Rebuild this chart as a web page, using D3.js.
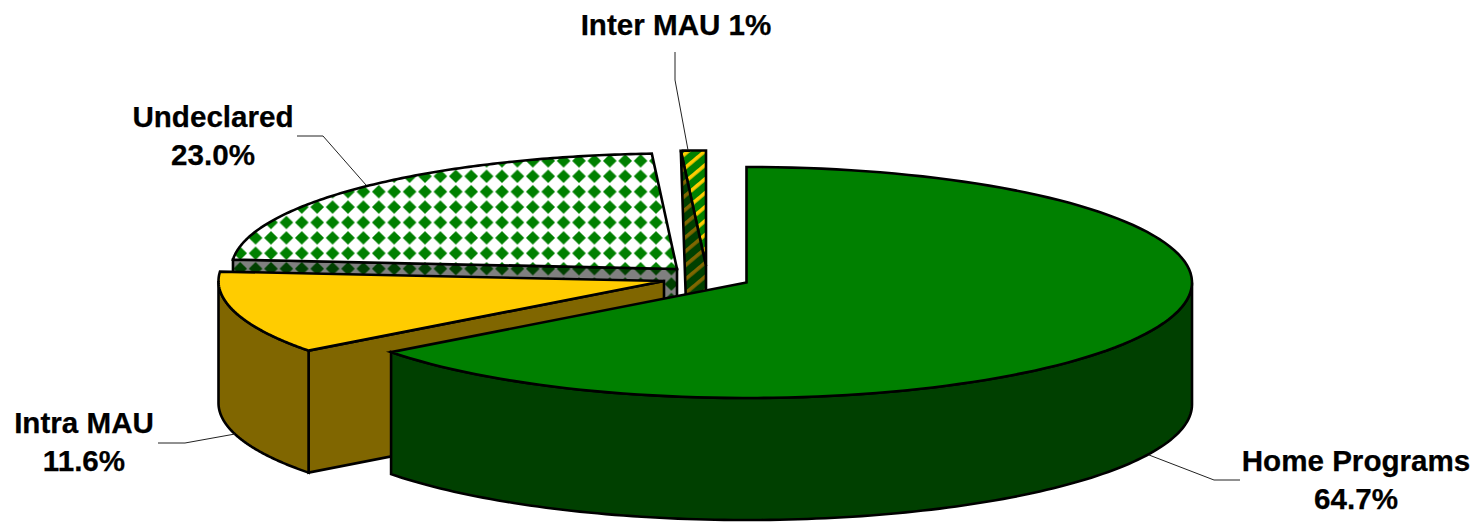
<!DOCTYPE html>
<html><head><meta charset="utf-8">
<script src="https://cdn.jsdelivr.net/npm/d3@7"></script>
<style>html,body{margin:0;padding:0;background:#fff}svg{display:block}text{font-family:"Liberation Sans",Arial,sans-serif;font-weight:700;font-size:29.6px;fill:#000;stroke:#000;stroke-width:0.25px;text-anchor:middle}</style>
</head><body><div id="c"></div>
<script>
const categories=["Home Programs","Intra MAU","Undeclared","Inter MAU"];
const shares=[64.7,11.6,22.8,0.9];
const labelLines=[["Home Programs","64.7%"],["Intra MAU","11.6%"],["Undeclared","23.0%"],["Inter MAU 1%"]];

const W=1480,H=523,rx=445.5,ry=115.5,depth=122;
const centres=[[746.5,282.5],[664,281],[677,269],[706,266]];
const topFill=["#008000","#FFCC00","url(#topDiamond)","url(#topStripe)"];
const wallFill=["#004000","#806600","url(#wallDiamond)","url(#wallStripe)"];
const labelPos=[[1356,471],[84,433],[213,127],[676,35]];
const leaders=[[[1149,455],[1214,480],[1240,480]],[[158,443],[185,443],[235,434]],[[297,136],[323,136],[366,185]],[[675,52],[675,80],[688,150]]];

const svg=d3.select("#c").append("svg").attr("width",W).attr("height",H);
const defs=svg.append("defs");
function diamond(id,bg,fg){
  const s=15.4,p=defs.append("pattern").attr("id",id).attr("patternUnits","userSpaceOnUse")
    .attr("width",s).attr("height",s).attr("x",1.5).attr("y",-0.8);
  p.append("rect").attr("width",s).attr("height",s).attr("fill",bg);
  p.append("path").attr("d",`M${s/2} 0.9L${s-0.9} ${s/2}L${s/2} ${s-0.9}L0.9 ${s/2}Z`).attr("fill",fg);
}
diamond("topDiamond","#fff","#008000");
diamond("wallDiamond","#808080","#004000");
function stripe(id,bg,fg){
  const s=10.7,p=defs.append("pattern").attr("id",id).attr("patternUnits","userSpaceOnUse")
    .attr("width",s).attr("height",s).attr("patternTransform","rotate(-40)");
  p.append("rect").attr("width",s).attr("height",s).attr("fill",bg);
  p.append("rect").attr("width",s).attr("height",3.6).attr("fill",fg);
}
stripe("topStripe","#008000","#FFCC00");
stripe("wallStripe","#004000","#806600");

const arcs=d3.pie().sort(null).value(d=>d).startAngle(0).endAngle(2*Math.PI)(shares);
const pt=(i,a,dz=0)=>[centres[i][0]+rx*Math.sin(a),centres[i][1]-ry*Math.cos(a)+dz];
const line=d3.line();
const sample=(i,a0,a1,dz=0)=>d3.range(0,121).map(k=>pt(i,a0+(a1-a0)*k/120,dz));
const stroke=(sel)=>sel.attr("stroke","#000").attr("stroke-width",2.6).attr("stroke-linejoin","miter");

function wallPoly(i,pts){stroke(svg.append("path").attr("d",line(pts)+"Z").attr("fill",wallFill[i]));}
function topFace(i,a){
  const c=centres[i];
  stroke(svg.append("path").attr("d",line([c,...sample(i,a.startAngle,a.endAngle)])+"Z").attr("fill",topFill[i]));
}
// back slices first, front slice last
[2,3,1,0].forEach(i=>{
  const a=arcs[i],c=centres[i];
  const down=p=>[p[0],p[1]+depth];
  const s=pt(i,a.startAngle);
  if(i===2){
    wallPoly(i,[s,c,down(c),down(s)]);
    topFace(i,a);
  } else if(i===3){
    topFace(i,a);
    wallPoly(i,[s,c,down(c),[s[0]+8,c[1]+depth]]);
  } else if(i===1){
    wallPoly(i,[c,s,down(s),down(c)]);
    const end=Math.min(a.endAngle,1.5*Math.PI);
    wallPoly(i,[...sample(i,a.startAngle,end),...sample(i,end,a.startAngle,depth)]);
    topFace(i,a);
  } else {
    wallPoly(i,[...sample(i,Math.PI/2,a.endAngle),...sample(i,a.endAngle,Math.PI/2,depth)]);
    topFace(i,a);
  }
});

leaders.forEach(l=>svg.append("path").attr("d",line(l)).attr("fill","none").attr("stroke","#222").attr("stroke-width",1));
labelLines.forEach((ls,i)=>{
  ls.forEach((t,k)=>svg.append("text").attr("x",labelPos[i][0]).attr("y",labelPos[i][1]+k*37.5).text(t));
});
</script></body></html>
